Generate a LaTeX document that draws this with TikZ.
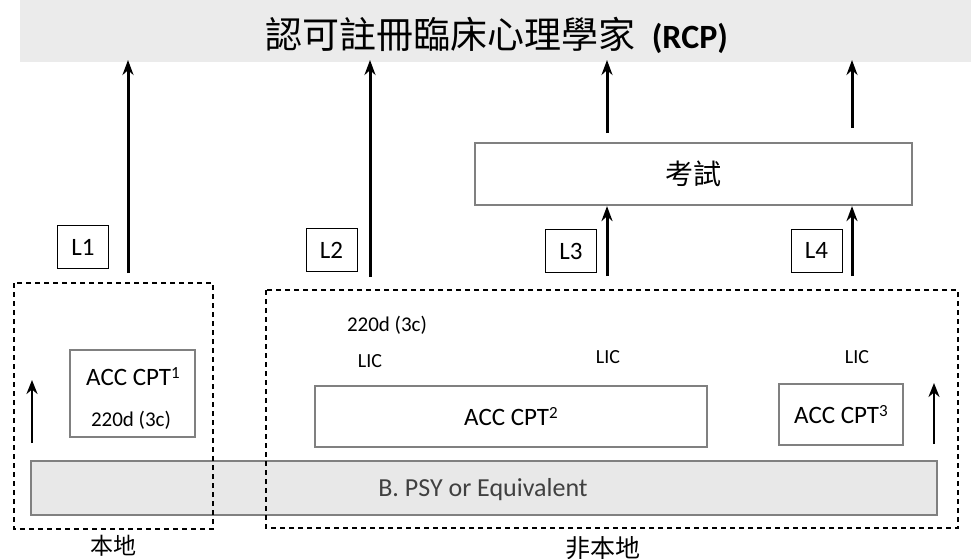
\documentclass[tikz,border=0pt]{standalone}
\usepackage{fontspec}
\setmainfont{Carlito}
\newfontfamily\cjk{Noto Sans CJK TC}
\usetikzlibrary{arrows.meta}
\newcommand{\fs}[1]{\fontsize{#1}{#1}\selectfont}
\newcommand{\sups}[1]{\raisebox{0.6ex}{\fontsize{17pt}{17pt}\selectfont #1}}
\tikzset{
  arr/.style={-{Stealth[length=15pt,width=11pt]}, line width=3pt},
  sarr/.style={-{Stealth[length=14pt,width=11pt]}, line width=2.8pt},
  graybox/.style={draw=black!50, line width=2.2pt, fill=white, rectangle, inner sep=0pt},
  lab/.style={draw, line width=0.9pt, rectangle, inner sep=0pt, minimum width=51pt, minimum height=43pt, font=\fs{25pt}},
  dashbox/.style={draw, line width=1.3pt, dash pattern=on 5pt off 4pt},
  txt/.style={inner sep=0pt},
  barbox/.style={draw=black!50, line width=2.2pt, fill=black!9, rectangle, inner sep=0pt}
}
\begin{document}
\begin{tikzpicture}[x=1pt,y=-1pt]
\useasboundingbox[fill=white] (0,0) rectangle (971,559);
\fill[black!8] (20,0) rectangle (971,62);
% title
\node[txt, anchor=west] (title) at (265,35) {\cjk\fs{37pt}認可註冊臨床心理學家\ \ \normalfont\bfseries\fs{34pt}(RCP)};
% bottom bar
\node[barbox, minimum width=906pt, minimum height=54pt] (bar) at (484,488) {};
\node[txt, font=\fs{26pt}, text=black!75] (bartxt) at (483,490) {B. PSY or Equivalent};
% dashed regions
\draw[dashbox] (14,283) rectangle (213,529);
\draw[dashbox] (266,290) rectangle (958,528);
\node[txt] (loc) at (113,546) {\cjk\fs{23pt}本地};
\node[txt] (nonloc) at (603,548) {\cjk\fs{25pt}非本地};
% exam box
\node[graybox, minimum width=437pt, minimum height=62pt] (exam) at (693.5,174) {\cjk\fs{28pt}考試};
% level labels
\node[lab] (L1) at (83,247) {L1};
\node[lab] (L2) at (331.5,250) {L2};
\node[lab] (L3) at (571,251) {L3};
\node[lab] (L4) at (816.5,250.5) {L4};
% ACC boxes
\node[graybox, minimum width=125pt, minimum height=87pt] (acc1) at (132.5,393.5) {};
\node[txt, font=\fs{25pt}] (acc1t) at (133,377) {ACC CPT\sups{1}};
\node[txt, font=\fs{21pt}] (acc1d) at (131,420) {220d (3c)};
\node[graybox, minimum width=392pt, minimum height=61pt, font=\fs{25pt}] (acc2) at (511,416.5) {ACC CPT\sups{2}};
\node[graybox, minimum width=124pt, minimum height=61pt, font=\fs{25pt}] (acc3) at (841,414.5) {ACC CPT\sups{3}};
% small texts
\node[txt, font=\fs{21pt}] (d2) at (387,325) {220d (3c)};
\node[txt, font=\fs{20pt}] (lic1) at (370,361) {LIC};
\node[txt, font=\fs{20pt}] (lic2) at (608,357) {LIC};
\node[txt, font=\fs{20pt}] (lic3) at (857,357) {LIC};
% arrow end points
\coordinate (b1) at (128,273); \coordinate (t1) at (128,60);
\coordinate (b2) at (370,277); \coordinate (t2) at (370,60);
\coordinate (b3) at (607,276); \coordinate (m3) at (607,133); \coordinate (t3) at (607,60);
\coordinate (b4) at (852,276); \coordinate (m4) at (852,128); \coordinate (t4) at (852,60);
\coordinate (sl0) at (32,443); \coordinate (sl1) at (32,380);
\coordinate (sr0) at (934,444); \coordinate (sr1) at (934,383);
\draw[arr] (b1) -- (t1);
\draw[arr] (b2) -- (t2);
\draw[arr] (b3) -- (b3 |- exam.south);
\draw[arr] (m3) -- (t3);
\draw[arr] (b4) -- (b4 |- exam.south);
\draw[arr] (m4) -- (t4);
\draw[sarr] (sl0) -- (sl1);
\draw[sarr] (sr0) -- (sr1);
\end{tikzpicture}
\end{document}
